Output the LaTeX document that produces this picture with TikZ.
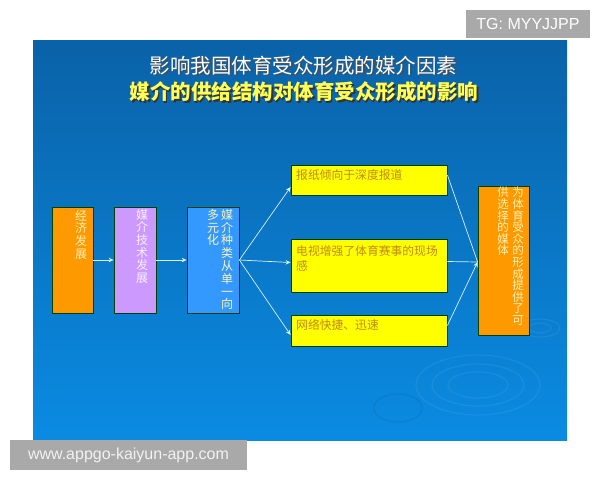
\documentclass[tikz,border=0pt]{standalone}
\usepackage{fontspec}
\setmainfont{Noto Sans CJK SC}
\newfontfamily\latinfont{Liberation Sans}
\usetikzlibrary{arrows.meta,calc}
\definecolor{slidetop}{HTML}{0A62A8}
\definecolor{slidebot}{HTML}{0A8BE2}
\definecolor{orangebox}{HTML}{FF9900}
\definecolor{purplebox}{HTML}{CC99FF}
\definecolor{bluebox}{HTML}{3399FF}
\definecolor{yellowbox}{HTML}{FFFF00}
\definecolor{ytext}{HTML}{C08A18}
\definecolor{paletext}{HTML}{FFF2B8}
\definecolor{arrowcol}{HTML}{D8F0FF}
\definecolor{wmgray}{HTML}{A9A9A9}
\definecolor{title2}{HTML}{FFFF55}
\tikzset{
  boxshape/.style={draw=black!75!green, line width=0.8pt, inner sep=0pt},
  vtext/.style={anchor=north, inner sep=0pt, align=center, font=\fontsize{12}{12.6}\selectfont},
  htext/.style={anchor=west, inner sep=0pt, align=left, text=ytext, font=\fontsize{11.8}{15}\selectfont},
  conn/.style={draw=arrowcol, line width=0.7pt},
  conntip/.style={conn, -{Stealth[length=5pt,width=4.5pt]}},
  wmbox/.style={fill=wmgray, inner sep=0pt, text=white, font=\latinfont\fontsize{16}{16}\selectfont},
  ripple/.style={draw=white, opacity=0.07, line width=1.2pt}
}
\begin{document}
\begin{tikzpicture}[x=1pt,y=-1pt]
\useasboundingbox (0,0) rectangle (600,480);
\fill[white] (0,0) rectangle (600,480);
% slide background
\shade[top color=slidetop, bottom color=slidebot] (33,40) rectangle (567,440);
% faint ripples
\draw[ripple] (478,385) ellipse (62 and 30);
\draw[ripple] (478,385) ellipse (46 and 21);
\draw[ripple] (478,385) ellipse (30 and 13);
\draw[ripple] (540,328) ellipse (20 and 9);
\draw[ripple] (540,328) ellipse (11 and 5);
\draw[draw=black, opacity=0.08, line width=1pt] (398,408) ellipse (24 and 14);

% titles
\node[text=black!70, font=\fontsize{20.5}{20.5}\selectfont] (t1s) at (304.8,66.8) {影响我国体育受众形成的媒介因素};
\node[text=white, font=\fontsize{20.5}{20.5}\selectfont] (t1) at (303.5,65.5) {影响我国体育受众形成的媒介因素};
\node[text=black!80, font=\bfseries\fontsize{20.5}{20.5}\selectfont] (t2s) at (305.3,93.3) {媒介的供给结构对体育受众形成的影响};
\node[text=title2, font=\bfseries\fontsize{20.5}{20.5}\selectfont] (t2) at (304,92) {媒介的供给结构对体育受众形成的影响};

% boxes
\node[boxshape, fill=orangebox, minimum width=41pt, minimum height=106pt] (b1) at (72.5,260) {};
\node[boxshape, fill=purplebox, minimum width=42pt, minimum height=106pt] (b2) at (135,260) {};
\node[boxshape, fill=bluebox, minimum width=52pt, minimum height=106pt] (b3) at (213,260) {};
\node[boxshape, fill=yellowbox, minimum width=156pt, minimum height=30pt] (ya) at (369,180) {};
\node[boxshape, fill=yellowbox, minimum width=156pt, minimum height=53pt] (yb) at (369,265.5) {};
\node[boxshape, fill=yellowbox, minimum width=156pt, minimum height=31pt] (yc) at (369,330.5) {};
\node[boxshape, fill=orangebox, minimum width=51pt, minimum height=149pt] (rb) at (503.5,260.5) {};

% vertical texts
\node[vtext, text=paletext] (b1t) at (81,210) {经\\济\\发\\展};
\node[vtext, text=white!85!purplebox] (b2t) at (142,209) {媒\\介\\技\\术\\发\\展};
\node[vtext, text=paletext, font=\fontsize{12}{12.8}\selectfont] (b3r) at (227,209) {媒\\介\\种\\类\\从\\单\\一\\向};
\node[vtext, text=paletext, font=\fontsize{12}{12.8}\selectfont] (b3l) at (213,209) {多\\元\\化};
\node[vtext, text=paletext, font=\fontsize{11.5}{11.6}\selectfont] (rbr) at (518,187) {为\\体\\育\\受\\众\\的\\形\\成\\提\\供\\了\\可};
\node[vtext, text=paletext, font=\fontsize{11.5}{11.6}\selectfont] (rbl) at (503,187) {供\\选\\择\\的\\媒\\体};

% horizontal texts
\node[htext] (yat) at (296,175) {报纸倾向于深度报道};
\node[htext] (ybt) at (296,258.5) {电视增强了体育赛事的现场\\感};
\node[htext] (yct) at (296,325) {网络快捷、迅速};

% connectors
\coordinate (b3o) at ($(b3.east)+(0,0)$);
\coordinate (rin) at ($(rb.west)+(0,1.5)$);
\draw[conntip] (b1.east) -- (b2.west);
\draw[conntip] (b2.east) -- (b3.west);
\draw[conntip] (b3o) -- ($(ya.west)+(0,7)$);
\draw[conntip] (b3o) -- ($(yb.west)+(0,-3)$);
\draw[conntip] (b3o) -- ($(yc.west)+(0,4.5)$);
\draw[conn] ($(ya.east)+(0,-5)$) -- (rin);
\draw[conn] ($(yb.east)+(0,-4)$) -- (rin);
\draw[conntip] ($(yc.east)+(0,-5)$) -- (rin);

% watermarks
\node[wmbox, minimum width=124pt, minimum height=28pt] (tg) at (528,24) {TG: MYYJJPP};
\node[wmbox, minimum width=237pt, minimum height=30pt, text=white!95!black] (www) at (128.5,455) {www.appgo-kaiyun-app.com};
\end{tikzpicture}
\end{document}
